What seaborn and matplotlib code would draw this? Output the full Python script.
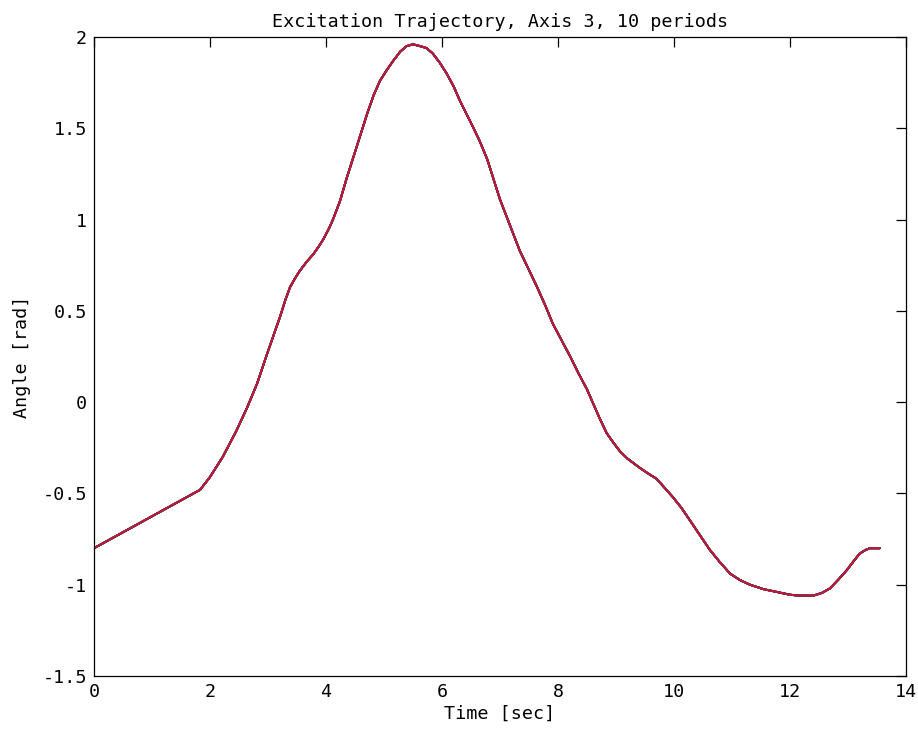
import numpy as np
import pandas as pd
import seaborn as sns
import matplotlib
matplotlib.use("Agg")
import matplotlib.pyplot as plt

# Data (time [sec], angle [rad])
time_sec = [0.00, 1.83, 2.00, 2.22, 2.45, 2.64, 2.81, 2.98, 3.10, 3.21, 3.30,
            3.38, 3.47, 3.55, 3.67, 3.78, 3.87, 3.95, 4.05, 4.12, 4.24, 4.35,
            4.47, 4.59, 4.71, 4.82, 4.93, 5.05, 5.16, 5.28, 5.39, 5.50, 5.62,
            5.73, 5.84, 5.96, 6.08, 6.20, 6.31, 6.42, 6.53, 6.65, 6.78, 6.89,
            7.00, 7.17, 7.34, 7.49, 7.64, 7.78, 7.91, 8.06, 8.21, 8.35, 8.50,
            8.61, 8.72, 8.84, 8.95, 9.07, 9.20, 9.41, 9.55, 9.70, 9.84, 9.98,
            10.13, 10.28, 10.45, 10.62, 10.80, 10.97, 11.14, 11.31, 11.55,
            11.78, 12.00, 12.17, 12.40, 12.55, 12.69, 12.84, 12.98, 13.10,
            13.20, 13.30, 13.38, 13.55]
angle_rad = [-0.80, -0.48, -0.41, -0.30, -0.16, -0.03, 0.10, 0.26, 0.37, 0.47, 0.56,
             0.63, 0.68, 0.72, 0.77, 0.81, 0.85, 0.89, 0.95, 1.00, 1.10, 1.22,
             1.34, 1.46, 1.58, 1.68, 1.76, 1.82, 1.87, 1.92, 1.95, 1.96, 1.95,
             1.94, 1.91, 1.86, 1.80, 1.73, 1.65, 1.58, 1.51, 1.43, 1.33, 1.22,
             1.11, 0.97, 0.83, 0.73, 0.63, 0.53, 0.43, 0.34, 0.25, 0.16, 0.07,
             -0.01, -0.09, -0.17, -0.22, -0.27, -0.31, -0.36, -0.39, -0.42, -0.47, -0.52,
             -0.58, -0.65, -0.73, -0.81, -0.88, -0.94, -0.975, -1.00, -1.025,
             -1.04, -1.055, -1.06, -1.06, -1.045, -1.02, -0.97, -0.92, -0.87,
             -0.83, -0.81, -0.80, -0.80]
periods = list(range(1, 11))
period_colors = ["#0000ff", "#008000", "#ff0000", "#00bfbf", "#bf00bf",
                 "#bfbf00", "#404040", "#0000ff", "#008000", "#d0103a"]
x_ticks = [0, 2, 4, 6, 8, 10, 12, 14]
y_ticks = [-1.5, -1, -0.5, 0, 0.5, 1, 1.5, 2]
y_tick_labels = ["-1.5", "-1", "-0.5", "0", "0.5", "1", "1.5", "2"]

frames = []
for p in periods:
    frames.append(pd.DataFrame({"time": time_sec, "angle": angle_rad, "period": p}))
df = pd.concat(frames, ignore_index=True)

sns.set_theme(style="white")
plt.rcParams["font.family"] = ["DejaVu Sans Mono"]

fig = plt.figure(figsize=(9.18, 7.43), dpi=100)
ax = fig.add_axes([94 / 918, 1 - 676 / 743, 812 / 918, 639 / 743])

sns.lineplot(data=df, x="time", y="angle", hue="period", palette=period_colors,
             estimator=None, units="period", sort=False, linewidth=1.4,
             legend=False, ax=ax)

ax.set_xlim(0, 14)
ax.set_ylim(-1.5, 2)
ax.set_xticks(x_ticks)
ax.set_xticklabels([str(t) for t in x_ticks])
ax.set_yticks(y_ticks)
ax.set_yticklabels(y_tick_labels)
ax.tick_params(direction="in", length=7, width=0.9, top=True, right=True,
               labelsize=13.2, colors="black", pad=5)
for s in ax.spines.values():
    s.set_visible(True)
    s.set_color("black")
    s.set_linewidth(0.9)

ax.set_xlabel("Time [sec]", fontsize=13.2, labelpad=3, color="black")
ax.set_ylabel("Angle [rad]", fontsize=13.2, labelpad=8, color="black")
ax.set_title("Excitation Trajectory, Axis 3, 10 periods", fontsize=13.2, pad=7,
             color="black")

fig.savefig("out.png", dpi=100, facecolor="white")
